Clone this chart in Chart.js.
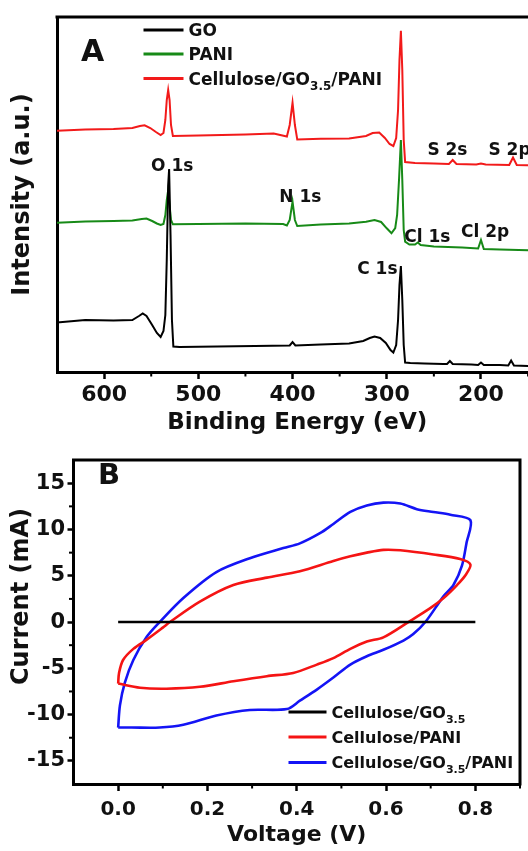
<!DOCTYPE html>
<html>
<head>
<meta charset="utf-8">
<title>XPS survey and CV curves</title>
<script src="https://cdn.jsdelivr.net/npm/chart.js@4.4.1/dist/chart.umd.min.js"></script>
<style>
  html, body { margin:0; padding:0; background:#fff; width:528px; height:851px; overflow:hidden; }
  canvas { position:absolute; left:0; display:block; }
  #chartA { top:0; }
  #chartB { top:445px; }
</style>
</head>
<body>
<canvas id="chartA" width="545" height="445"></canvas>
<canvas id="chartB" width="528" height="406"></canvas>
<script>
// ================= DATA =================
// Panel A : XPS survey spectra (binding energy in eV, intensity in a.u.)
const xpsLabels = ['GO', 'PANI', 'Cellulose/GO_{3.5}/PANI'];
const goEnergy = [650, 620, 590, 570, 563, 559, 555, 549, 544, 540, 537, 535, 533.5, 532, 531, 529.5, 528, 526.5, 520, 480, 440, 403, 400, 397, 370, 340, 325, 318, 313, 307, 301, 296, 293, 290, 288, 286.5, 285, 283.5, 282, 280.5, 275, 260, 240, 236, 233, 230, 210, 203, 200, 197, 180, 171, 168, 165, 150, 140];
const goIntensity = [49.5, 52, 51.5, 52, 56, 58.5, 56, 47, 39, 35, 41, 57, 112, 187, 203, 137, 52, 25.5, 25, 25.5, 26, 26.5, 30, 26.5, 27.5, 28.5, 31, 34, 35.5, 34, 29, 22, 19.5, 27, 52, 87, 106, 72, 27, 9.5, 9, 8.5, 8, 8, 11, 8, 7.5, 7, 9.5, 7, 7, 6.5, 11.5, 6.5, 6, 6];
const paniEnergy = [650, 620, 590, 570, 560, 555, 549, 544, 540, 537, 535, 533.5, 532, 530.5, 529, 527, 500, 450, 410, 406, 403, 400, 397.5, 395, 370, 340, 322, 313, 306, 300, 295, 291, 289, 287, 285, 283.5, 282, 280.5, 276, 270, 267, 264, 250, 220, 203, 200, 197, 180, 160, 140];
const paniIntensity = [149.3, 150.5, 151, 151.5, 153, 153.5, 151, 148.5, 147, 148, 157, 172, 182, 167, 152, 147.7, 148, 148.5, 148, 146.5, 152, 170.3, 152, 146, 147.5, 148.5, 150.3, 152, 150, 143.7, 138.7, 144, 157, 192, 232, 192, 142, 130.3, 127.5, 127.5, 129.5, 127, 125.5, 124.5, 123.5, 132, 123, 122.5, 122, 121.5];
const compEnergy = [650, 620, 590, 570, 562, 557, 551, 545, 540, 537, 535, 533.5, 532, 530.5, 529, 527, 500, 450, 420, 406, 403, 400, 397.5, 395, 370, 340, 322, 315, 308, 302, 297, 293, 290, 288, 286.5, 285, 283.5, 282, 280.5, 270, 250, 234, 230, 226, 205, 200, 195, 170, 166, 162, 140];
const compIntensity = [241.3, 242.5, 243, 244, 246, 246.7, 244, 240, 237, 239, 252, 272, 282, 272, 247, 236, 236.5, 237.5, 238.5, 235.5, 247, 269.3, 247, 232.5, 233.3, 233.5, 236, 239, 239.5, 234, 228, 226, 234, 262, 312, 341.3, 302, 232, 210, 209, 208.5, 208, 212, 208, 207.5, 208.5, 207.5, 207, 214.5, 207, 206.5];
const xpsTicks = [200, 300, 400, 500, 600];
const xpsMinorTicks = [150, 250, 350, 450, 550];
const peakNames = ['O 1s', 'N 1s', 'C 1s', 'Cl 1s', 'Cl 2p', 'S 2s', 'S 2p'];

// Panel B : cyclic voltammograms (voltage in V, current in mA)
const cvLabels = ['Cellulose/GO_{3.5}', 'Cellulose/PANI', 'Cellulose/GO_{3.5}/PANI'];
const goVoltage = [0, 0.2, 0.4, 0.6, 0.8];
const goCurrent = [0, 0, 0, 0, 0];
const paniVoltage = [0, 0.002, 0.011, 0.034, 0.064, 0.100, 0.116, 0.183, 0.258, 0.333, 0.407, 0.482, 0.520, 0.557, 0.594, 0.632, 0.706, 0.766, 0.789, 0.777, 0.759, 0.729, 0.699, 0.650, 0.594, 0.557, 0.520, 0.482, 0.445, 0.392, 0.333, 0.258, 0.183, 0.108, 0.049, 0];
const paniCurrent = [-6.65, -5.5, -4.1, -2.9, -1.9, -0.6, 0, 2.2, 4.0, 4.8, 5.5, 6.6, 7.1, 7.5, 7.8, 7.75, 7.3, 6.8, 6.2, 5.0, 4.0, 2.6, 1.5, 0, -1.65, -2.1, -2.9, -3.9, -4.6, -5.5, -5.85, -6.4, -7.0, -7.2, -7.1, -6.65];
const compVoltage = [0, 0.004, 0.015, 0.034, 0.064, 0.093, 0.146, 0.220, 0.295, 0.370, 0.407, 0.452, 0.482, 0.520, 0.557, 0.594, 0.632, 0.669, 0.706, 0.744, 0.789, 0.780, 0.770, 0.751, 0.729, 0.688, 0.661, 0.639, 0.594, 0.557, 0.520, 0.482, 0.445, 0.407, 0.378, 0.295, 0.220, 0.146, 0.093, 0.030, 0];
const compCurrent = [-11.4, -9.0, -6.55, -4.1, -1.6, 0, 2.6, 5.4, 6.9, 8.0, 8.5, 9.6, 10.6, 11.9, 12.6, 12.9, 12.8, 12.2, 11.9, 11.6, 11.0, 8.5, 6.1, 4.0, 2.8, 0, -1.3, -2.0, -3.0, -3.7, -4.6, -6.0, -7.3, -8.5, -9.4, -9.5, -10.1, -11.1, -11.4, -11.4, -11.4];
const cvXTicks = [0, 0.2, 0.4, 0.6, 0.8];
const cvXMinorTicks = [0.1, 0.3, 0.5, 0.7, 0.9];
const cvYTicks = [-15, -10, -5, 0, 5, 10, 15];
const cvYMinorTicks = [-12.5, -7.5, -2.5, 2.5, 7.5, 12.5];

// ================= HELPERS / STYLE =================
const FONT = '"DejaVu Sans", "Liberation Sans", sans-serif';
Chart.defaults.font.family = FONT;
Chart.defaults.font.weight = 'bold';
Chart.defaults.color = '#111';

const pairs = (xs, ys) => xs.map((v, i) => ({ x: v, y: ys[i] }));

// draws text with "_{...}" subscripts, y = cap-centre
function richText(ctx, text, x, yCenter, size) {
  const parts = [];
  const re = /_\{([^}]*)\}/g;
  let last = 0, m;
  while ((m = re.exec(text))) {
    if (m.index > last) parts.push({ t: text.slice(last, m.index), sub: false });
    parts.push({ t: m[1], sub: true });
    last = re.lastIndex;
  }
  if (last < text.length) parts.push({ t: text.slice(last), sub: false });
  const base = yCenter + 0.3645 * size;
  const subSize = Math.round(size * 0.68);
  ctx.textAlign = 'left';
  ctx.textBaseline = 'alphabetic';
  let cx = x;
  parts.forEach(p => {
    ctx.font = 'bold ' + (p.sub ? subSize : size) + 'px ' + FONT;
    ctx.fillText(p.t, cx, p.sub ? base + size * 0.32 : base);
    cx += ctx.measureText(p.t).width;
  });
}

function drawLegend(ctx, labels, colors, x0, rows, lineLen, size) {
  labels.forEach((lab, i) => {
    ctx.strokeStyle = colors[i];
    ctx.lineWidth = 3;
    ctx.beginPath();
    ctx.moveTo(x0, rows[i]);
    ctx.lineTo(x0 + lineLen, rows[i]);
    ctx.stroke();
    ctx.fillStyle = '#111';
    richText(ctx, lab, x0 + lineLen + 5, rows[i], size);
  });
}

function frameTopRight(ctx, a) {
  ctx.strokeStyle = '#000';
  ctx.lineWidth = 3;
  ctx.beginPath();
  ctx.moveTo(a.left - 1.5, a.top);
  ctx.lineTo(a.right, a.top);
  ctx.lineTo(a.right, a.bottom + 1.5);
  ctx.stroke();
}

const colorsA = ['#000000', '#178a17', '#f21a1a'];
const colorsB = ['#000000', '#f51414', '#1414f5'];

// peak annotation anchors (label centre, in data units)
const peakNoteE = [527.7, 391.7, 310, 257, 195.7, 235.6, 169.7];
const peakNoteV = [207, 176.5, 104.5, 136, 141.5, 223, 223];

const decorA = {
  id: 'decorA',
  afterDraw(chart) {
    const { ctx, chartArea: a, scales: { x, y } } = chart;
    ctx.save();
    frameTopRight(ctx, a);
    ctx.lineWidth = 2;
    xpsMinorTicks.forEach(v => {
      const p = x.getPixelForValue(v);
      ctx.beginPath(); ctx.moveTo(p, a.bottom); ctx.lineTo(p, a.bottom + 4.5); ctx.stroke();
    });
    ctx.fillStyle = '#111';
    ctx.font = 'bold 17px ' + FONT;
    ctx.textAlign = 'center';
    ctx.textBaseline = 'alphabetic';
    peakNames.forEach((n, i) => {
      ctx.fillText(n, x.getPixelForValue(peakNoteE[i]), y.getPixelForValue(peakNoteV[i]) + 0.3645 * 17);
    });
    ctx.font = 'bold 30px ' + FONT;
    ctx.fillText('A', 92.5, 51 + 0.3645 * 28);
    drawLegend(ctx, xpsLabels, colorsA, 143.5, [30, 54, 78.5], 40, 17);
    ctx.restore();
  }
};

const decorB = {
  id: 'decorB',
  afterDraw(chart) {
    const { ctx, chartArea: a, scales: { x, y } } = chart;
    ctx.save();
    frameTopRight(ctx, a);
    ctx.strokeStyle = '#000';
    ctx.lineWidth = 2;
    cvXMinorTicks.forEach(v => {
      const p = x.getPixelForValue(v);
      ctx.beginPath(); ctx.moveTo(p, a.bottom); ctx.lineTo(p, a.bottom + 4.5); ctx.stroke();
    });
    cvYMinorTicks.forEach(v => {
      const p = y.getPixelForValue(v);
      ctx.beginPath(); ctx.moveTo(a.left, p); ctx.lineTo(a.left - 4.5, p); ctx.stroke();
    });
    ctx.fillStyle = '#111';
    ctx.font = 'bold 29px ' + FONT;
    ctx.textAlign = 'center';
    ctx.textBaseline = 'alphabetic';
    ctx.fillText('B', 109, 28.3 + 0.3645 * 28);
    // y-axis title (sits a little above the axis centre in the original)
    ctx.save();
    ctx.translate(21.7, 151.5);
    ctx.rotate(-Math.PI / 2);
    ctx.font = 'bold 24px ' + FONT;
    ctx.textBaseline = 'middle';
    ctx.fillText('Current (mA)', 0, 0);
    ctx.restore();
    drawLegend(ctx, cvLabels, colorsB, 288.5, [267, 292, 317.5], 38, 16);
    ctx.restore();
  }
};

const tickGrid = { display: true, drawOnChartArea: false, drawTicks: true, tickLength: 7, tickWidth: 2.5, tickColor: '#000' };
const axisBorder = { display: true, width: 3, color: '#000' };

// ================= CHART A =================
new Chart(document.getElementById('chartA'), {
  type: 'scatter',
  data: {
    datasets: [
      { label: xpsLabels[0], data: pairs(goEnergy, goIntensity), borderColor: colorsA[0] },
      { label: xpsLabels[1], data: pairs(paniEnergy, paniIntensity), borderColor: colorsA[1] },
      { label: xpsLabels[2], data: pairs(compEnergy, compIntensity), borderColor: colorsA[2] }
    ].map(d => Object.assign(d, { showLine: true, pointRadius: 0, borderWidth: 2, tension: 0, fill: false }))
  },
  options: {
    responsive: false,
    animation: false,
    devicePixelRatio: 1,
    layout: { padding: { left: 0, top: 17, right: 7.5, bottom: 0 } },
    plugins: { legend: { display: false }, tooltip: { enabled: false } },
    scales: {
      x: {
        type: 'linear', reverse: true, min: 140, max: 650,
        afterBuildTicks: s => { s.ticks = xpsTicks.map(v => ({ value: v })); },
        afterFit: s => { s.height = 73; },
        ticks: { font: { size: 22, weight: 'bold' }, color: '#111', padding: 3, maxRotation: 0 },
        grid: tickGrid,
        border: axisBorder,
        title: { display: true, text: 'Binding Energy (eV)', color: '#111', font: { size: 23, weight: 'bold' }, padding: { top: 0, bottom: 8 } }
      },
      y: {
        type: 'linear', min: 0, max: 355,
        afterFit: s => { s.width = 57; },
        ticks: { display: false },
        grid: { display: false, drawTicks: false },
        border: axisBorder,
        title: { display: true, text: 'Intensity (a.u.)', color: '#111', font: { size: 24, weight: 'bold' }, padding: { top: 8, bottom: 0 } }
      }
    }
  },
  plugins: [decorA]
});

// ================= CHART B =================
new Chart(document.getElementById('chartB'), {
  type: 'scatter',
  data: {
    datasets: [
      { label: cvLabels[0], data: pairs(goVoltage, goCurrent), borderColor: colorsB[0], tension: 0 },
      { label: cvLabels[1], data: pairs(paniVoltage, paniCurrent), borderColor: colorsB[1], tension: 0.3 },
      { label: cvLabels[2], data: pairs(compVoltage, compCurrent), borderColor: colorsB[2], tension: 0.3 }
    ].map(d => Object.assign(d, { showLine: true, pointRadius: 0, borderWidth: 2.6, fill: false }))
  },
  options: {
    responsive: false,
    animation: false,
    devicePixelRatio: 1,
    layout: { padding: { left: 0, top: 6, right: 8, bottom: 0 } },
    plugins: { legend: { display: false }, tooltip: { enabled: false } },
    scales: {
      x: {
        type: 'linear', min: -0.1, max: 0.9,
        afterBuildTicks: s => { s.ticks = cvXTicks.map(v => ({ value: v })); },
        afterFit: s => { s.height = 67; },
        ticks: { font: { size: 20, weight: 'bold' }, color: '#111', padding: 7, maxRotation: 0, callback: v => Number(v).toFixed(1) },
        grid: tickGrid,
        border: axisBorder,
        title: { display: true, text: 'Voltage (V)', color: '#111', font: { size: 22, weight: 'bold' }, padding: { top: 0, bottom: 3 } }
      },
      y: {
        type: 'linear', min: -17.5, max: 17.5,
        afterBuildTicks: s => { s.ticks = cvYTicks.map(v => ({ value: v })); },
        afterFit: s => { s.width = 73.5; },
        ticks: { font: { size: 21, weight: 'bold' }, color: '#111', padding: 2.5, callback: v => String(v) },
        grid: Object.assign({}, tickGrid, { tickLength: 6 }),
        border: axisBorder,
        title: { display: false }
      }
    }
  },
  plugins: [decorB]
});
</script>
</body>
</html>
